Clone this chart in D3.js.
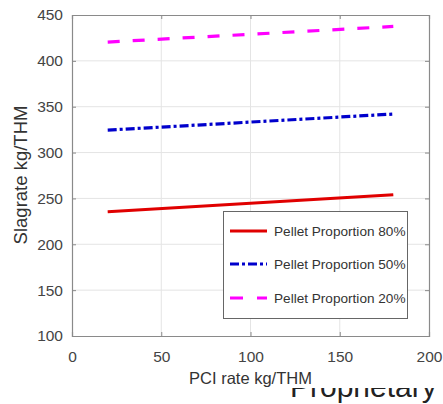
<!DOCTYPE html>
<html><head><meta charset="utf-8">
<script src="https://cdn.jsdelivr.net/npm/d3@7"></script>
<style>body{margin:0;background:#fff}svg{display:block}text{font-family:"Liberation Sans",Arial,sans-serif}</style>
</head><body>
<script>
const pciRate = [20, 180];
const pellet80 = [235.5, 254];
const pellet50 = [324.5, 342];
const pellet20 = [420.5, 437.5];
const seriesNames = ["Pellet Proportion 80%", "Pellet Proportion 50%", "Pellet Proportion 20%"];
const xTicks = [0, 50, 100, 150, 200];
const yTicks = [100, 150, 200, 250, 300, 350, 400, 450];

const W = 443, H = 404;
const m = {l: 72, r: 429, t: 15, b: 336};
const svg = d3.select("body").append("svg").attr("width", W).attr("height", H);
const x = d3.scaleLinear().domain([0, 200]).range([m.l, m.r]);
const y = d3.scaleLinear().domain([100, 450]).range([m.b, m.t]);

// grid
const g = svg.append("g");
g.selectAll(".gx").data(xTicks.slice(1, -1)).join("line")
  .attr("x1", d => x(d)).attr("x2", d => x(d)).attr("y1", m.t).attr("y2", m.b)
  .attr("stroke", "#e4e4e4").attr("stroke-width", 1);
g.selectAll(".gy").data(yTicks.slice(1, -1)).join("line")
  .attr("y1", d => y(d)).attr("y2", d => y(d)).attr("x1", m.l).attr("x2", m.r)
  .attr("stroke", "#e4e4e4").attr("stroke-width", 1);

// axes
const axCol = "#8a8a8a";
const xAx = svg.append("g").attr("transform", `translate(0,${m.b})`)
  .call(d3.axisBottom(x).tickValues(xTicks).tickSize(-4).tickPadding(15));
const yAx = svg.append("g").attr("transform", `translate(${m.l},0)`)
  .call(d3.axisLeft(y).tickValues(yTicks).tickSize(-4).tickPadding(9));
const xTop = svg.append("g").attr("transform", `translate(0,${m.t})`)
  .call(d3.axisTop(x).tickValues(xTicks).tickSize(-4).tickFormat(""));
const yRight = svg.append("g").attr("transform", `translate(${m.r},0)`)
  .call(d3.axisRight(y).tickValues(yTicks).tickSize(-4).tickFormat(""));
[xAx, yAx, xTop, yRight].forEach(a => {
  a.select(".domain").attr("stroke", axCol).attr("stroke-width", 1.2);
  a.selectAll(".tick line").attr("stroke", axCol);
  a.selectAll("text").attr("fill", "#444").style("font-size", "15.5px").style("font-family", "'Liberation Sans',Arial,sans-serif");
});

// lines
const series = [
  {vals: pellet80, color: "#e00000", dash: null},
  {vals: pellet50, color: "#0000cc", dash: "9,3,3,3"},
  {vals: pellet20, color: "#ff00ff", dash: "12,13"}
];
const line = d3.line().x(d => x(d[0])).y(d => y(d[1]));
series.forEach(s => {
  svg.append("path").datum(pciRate.map((p, i) => [p, s.vals[i]]))
    .attr("d", line).attr("fill", "none").attr("stroke", s.color)
    .attr("stroke-width", 3.2).attr("stroke-dasharray", s.dash);
});

// legend
const lg = svg.append("g");
lg.append("rect").attr("x", 223.5).attr("y", 211.5).attr("width", 184).attr("height", 107)
  .attr("fill", "#fff").attr("stroke", "#666").attr("stroke-width", 1);
const legY = [231, 264, 298];
const legDash = [null, "9,3,3,3", "13,14"];
series.forEach((s, i) => {
  lg.append("line").attr("x1", 230).attr("x2", 267).attr("y1", legY[i]).attr("y2", legY[i])
    .attr("stroke", s.color).attr("stroke-width", 3.2).attr("stroke-dasharray", legDash[i]);
  lg.append("text").attr("x", 274).attr("y", legY[i] + 5).attr("fill", "#333")
    .style("font-size", "13.6px").text(seriesNames[i]);
});

// axis labels
svg.append("text").attr("x", x(100)).attr("y", 384).attr("text-anchor", "middle")
  .attr("fill", "#333").style("font-size", "16.5px").text("PCI rate kg/THM");
svg.append("text").attr("transform", `translate(27,175) rotate(-90)`).attr("text-anchor", "middle")
  .attr("fill", "#333").style("font-size", "18.5px").text("Slagrate kg/THM");

// clipped footer text
svg.append("clipPath").attr("id", "fc").append("rect").attr("x", 0).attr("y", 388).attr("width", W).attr("height", 20);
svg.append("text").attr("x", 290).attr("y", 397).attr("clip-path", "url(#fc)")
  .attr("fill", "#222").style("font-size", "30px").text("Proprietary");
</script>
</body></html>
